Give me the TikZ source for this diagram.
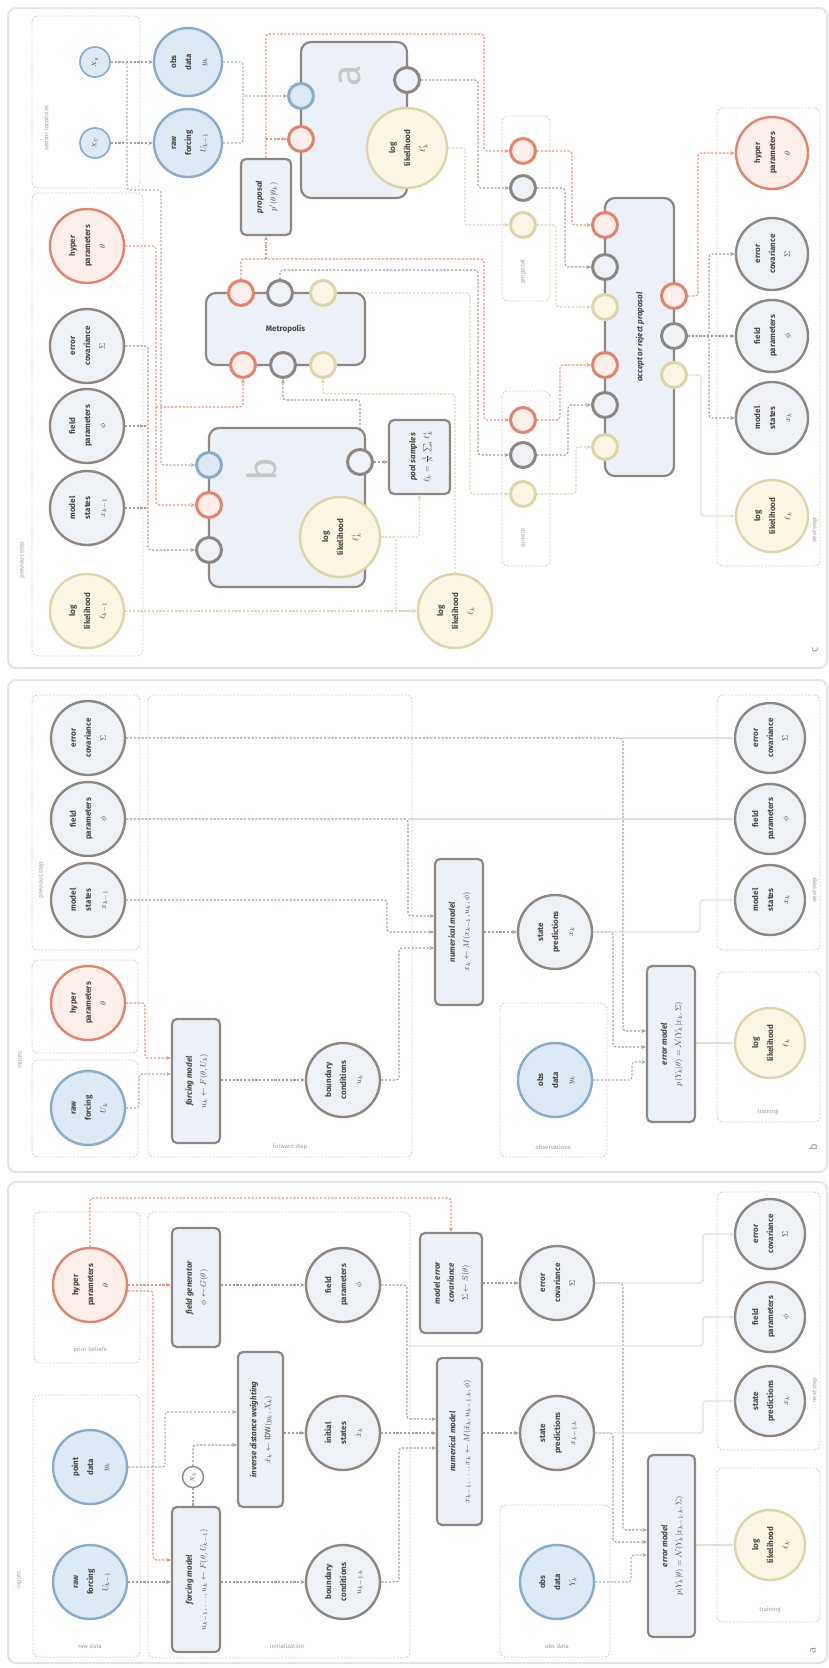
\documentclass[tikz,border=0pt]{standalone}
\usepackage{fontspec}
\setmainfont{Fira Sans}
\usepackage{graphicx}
\usepackage{amssymb}
\usetikzlibrary{arrows.meta}
\definecolor{gbd}{HTML}{8E8682}
\definecolor{gfl}{HTML}{EEF2F6}
\definecolor{rbd}{HTML}{E5826B}
\definecolor{rfl}{HTML}{FCEFEA}
\definecolor{bbd}{HTML}{88AACB}
\definecolor{bfl}{HTML}{DDEAF5}
\definecolor{ybd}{HTML}{DDD4AA}
\definecolor{yfl}{HTML}{FAF6E3}
\definecolor{bxfl}{HTML}{EBF1F7}
\definecolor{ink}{HTML}{4A4542}
\definecolor{lnc}{HTML}{A89E99}
\definecolor{lnr}{HTML}{EA967F}
\definecolor{lnb}{HTML}{9FB3C7}
\definecolor{lny}{HTML}{DCD5B4}
\definecolor{fntc}{HTML}{E4DFDB}
\definecolor{grpc}{HTML}{D8CEC9}
\definecolor{pnlc}{HTML}{E6E4E2}
\definecolor{lbl}{HTML}{A39B97}
\pgfdeclarelayer{grps}
\pgfdeclarelayer{wires}
\pgfsetlayers{grps,wires,main}
\newcommand{\vlab}[1]{\rotatebox{90}{\begin{tabular}{@{}c@{}}#1\end{tabular}}}
\newcommand{\btitle}[1]{\textbf{\textit{#1}}}
\tikzset{
  crc/.style={circle,minimum size=74pt,inner sep=0pt,line width=2.4pt,draw=gbd,fill=gfl,text=ink,font=\fontsize{8}{15}\selectfont\bfseries},
  crcr/.style={crc,draw=rbd,fill=rfl},
  crcb/.style={crc,draw=bbd,fill=bfl},
  crcy/.style={crc,draw=ybd,fill=yfl},
  bx/.style={rectangle,rounded corners=5pt,line width=2.2pt,draw=gbd,fill=bxfl,inner sep=0pt,text=ink,font=\fontsize{8}{14}\selectfont},
  prt/.style={circle,minimum size=25pt,inner sep=0pt,line width=3pt,draw=gbd,fill=gfl},
  prtr/.style={prt,draw=rbd,fill=rfl},
  prtb/.style={prt,draw=bbd,fill=bfl},
  prty/.style={prt,draw=ybd,fill=yfl},
  grp/.style={draw=grpc,dash pattern=on 2pt off 1.5pt,rounded corners=6pt,line width=0.9pt,fill=white},
  glab/.style={text=lbl,font=\fontsize{6}{7}\selectfont},
  pnl/.style={draw=pnlc,rounded corners=8pt,line width=2pt},
  flow/.style={draw=lnc,line width=1.1pt,dash pattern=on 2.2pt off 1.6pt,rounded corners=3pt,-{Stealth[length=4.5pt,width=4pt]}},
  flowr/.style={flow,draw=lnr},
  flowb/.style={flow,draw=lnb},
  flowy/.style={flow,draw=lny},
  faint/.style={draw=fntc,line width=1.4pt,rounded corners=3pt,-{Stealth[length=4.5pt,width=4pt]}},
}
\begin{document}
\begin{tikzpicture}[x=1pt,y=-1pt]
\tikzset{bigl/.style={text=gray!45,font=\fontsize{40}{40}\selectfont},pl/.style={text=lbl,font=\fontsize{11}{11}\selectfont}}
\useasboundingbox (0,0) rectangle (829,1668);

\node[crcr] (thA) at (90,1285) {\vlab{hyper\\parameters\\$\theta$}};
\node[crcb] (yA) at (90,1467) {\vlab{point\\data\\$y_k$}};
\node[crcb] (UA) at (90,1582) {\vlab{raw\\forcing\\$U_{k-1}$}};
\node[bx,minimum width=48pt,minimum height=119pt] (fgA) at (196,1287.5) {\vlab{\btitle{field generator}\\$\phi\leftarrow G(\theta)$}};
\node[bx,minimum width=48pt,minimum height=145pt] (fcA) at (196,1579.5) {\vlab{\btitle{forcing model}\\$u_{k-1},\dots,u_k\leftarrow F(\theta,U_{k-1})$}};
\node[bx,minimum width=45pt,minimum height=155pt] (idwA) at (260.5,1429.5) {\vlab{\btitle{inverse distance weighting}\\$\hat{x}_k\leftarrow \mathrm{IDW}(y_k,X_k)$}};
\node[crc,minimum size=21pt,line width=1.4pt,fill=white,font=\fontsize{6}{7}\selectfont] (XA) at (193,1477) {\rotatebox{90}{$X_k$}};
\node[crc] (phA) at (343,1285) {\vlab{field\\parameters\\$\phi$}};
\node[crc] (xhA) at (343,1433) {\vlab{initial\\states\\$\hat{x}_k$}};
\node[crc] (ubA) at (343,1582) {\vlab{boundary\\conditions\\$u_{k-1:k}$}};
\node[bx,minimum width=62pt,minimum height=100pt] (meA) at (451,1283) {\vlab{\btitle{model error}\\\btitle{covariance}\\$\Sigma\leftarrow S(\theta)$}};
\node[bx,minimum width=45pt,minimum height=167pt] (nmA) at (459.5,1441.5) {\vlab{\btitle{numerical model}\\$x_{k-1},\dots,x_k\leftarrow M(\hat{x}_k,u_{k-1:k},\phi)$}};
\node[crc] (SgA) at (557,1283) {\vlab{error\\covariance\\$\Sigma$}};
\node[crc] (xpA) at (557,1433) {\vlab{state\\predictions\\$x_{k-1:k}$}};
\node[crcb] (obA) at (557,1582) {\vlab{obs\\data\\$Y_k$}};
\node[bx,minimum width=47pt,minimum height=182pt] (emA) at (671.5,1546) {\vlab{\btitle{error model}\\$p(Y_k|\theta)=\mathcal{N}(Y_k|x_{k-1:k},\Sigma)$}};
\node[crc,minimum size=70pt] (oSA) at (770,1234) {\vlab{error\\covariance\\$\Sigma$}};
\node[crc,minimum size=70pt] (ophA) at (770,1317) {\vlab{field\\parameters\\$\phi$}};
\node[crc,minimum size=70pt] (oxA) at (770,1401) {\vlab{state\\predictions\\$x_k$}};
\node[crcy,minimum size=70pt] (llA) at (770,1545) {\vlab{log\\likelihood\\$\ell_k$}};
\node[glab] (gA1) at (90,1350) {prior beliefs};
\node[glab] (gA2) at (90,1646) {raw data};
\node[glab] (gA3) at (287,1646) {initialization};
\node[glab] (gA4) at (557,1646) {obs data};
\node[glab] (gA5) at (770,1610) {training};
\node[glab,rotate=90] (gA6) at (815,1390) {next step};
\node[glab,rotate=90] (gA7) at (19,1580) {inputs};
\node[pl] (labA) at (813,1650) {\rotatebox{90}{a}};

\node[crc] (SgB0) at (88,738) {\vlab{error\\covariance\\$\Sigma$}};
\node[crc] (phB0) at (88,819) {\vlab{field\\parameters\\$\phi$}};
\node[crc] (xB0) at (88,900) {\vlab{model\\states\\$x_{k-1}$}};
\node[crcr] (thB) at (88,1003) {\vlab{hyper\\parameters\\$\theta$}};
\node[crcb] (UB) at (88,1108) {\vlab{raw\\forcing\\$U_k$}};
\node[bx,minimum width=48pt,minimum height=124pt] (fcB) at (196,1081) {\vlab{\btitle{forcing model}\\$u_k\leftarrow F(\theta,U_k)$}};
\node[crc] (ubB) at (343,1080) {\vlab{boundary\\conditions\\$u_k$}};
\node[bx,minimum width=48pt,minimum height=146pt] (nmB) at (459,932) {\vlab{\btitle{numerical model}\\$x_k\leftarrow M(x_{k-1},u_k,\phi)$}};
\node[crc] (xpB) at (555,932) {\vlab{state\\predictions\\$x_k$}};
\node[crcb] (obB) at (555,1080) {\vlab{obs\\data\\$y_k$}};
\node[bx,minimum width=48pt,minimum height=156pt] (emB) at (671,1044) {\vlab{\btitle{error model}\\$p(Y_k|\theta)=\mathcal{N}(Y_k|x_k,\Sigma)$}};
\node[crc,minimum size=70pt] (oSB) at (770,738) {\vlab{error\\covariance\\$\Sigma$}};
\node[crc,minimum size=70pt] (ophB) at (770,819) {\vlab{field\\parameters\\$\phi$}};
\node[crc,minimum size=70pt] (oxB) at (770,900) {\vlab{model\\states\\$x_k$}};
\node[crcy,minimum size=70pt] (llB) at (770,1043) {\vlab{log\\likelihood\\$\ell_k$}};
\node[glab,rotate=90] (gB1) at (41,880) {previous step};
\node[glab] (gB2) at (290,1147) {forward step};
\node[glab] (gB3) at (553,1147) {observations};
\node[glab] (gB4) at (768,1112) {training};
\node[glab,rotate=90] (gB5) at (815,890) {next step};
\node[glab,rotate=90] (gB6) at (20,1060) {inputs};
\node[pl] (labB) at (813,1147) {\rotatebox{90}{b}};

\node[crcb,minimum size=30pt,line width=1.6pt,font=\fontsize{6.5}{7}\selectfont] (s1C) at (95,62) {\rotatebox{90}{$X_y$}};
\node[crcb,minimum size=30pt,line width=1.6pt,font=\fontsize{6.5}{7}\selectfont] (s2C) at (95,143) {\rotatebox{90}{$X_U$}};
\node[crcb,minimum size=68pt] (B1C) at (188,62) {\vlab{obs\\data\\$y_k$}};
\node[crcb,minimum size=68pt] (B2C) at (188,143) {\vlab{raw\\forcing\\$U_{k-1}$}};
\node[bx,rounded corners=10pt,minimum width=106pt,minimum height=156pt] (aC) at (354,120) {};
\node[bigl] (aL) at (350,76) {\rotatebox{90}{a}};
\node[prtb] (pbaC) at (301,96) {};
\node[prtr] (praC) at (301,139) {};
\node[prt] (pgaC) at (407,80) {};
\node[crcy,minimum size=80pt] (laC) at (407,148) {\vlab{log\\likelihood\\$\ell'_k$}};
\node[bx,minimum width=50pt,minimum height=76pt] (prC) at (266,197) {\vlab{\btitle{proposal}\\$p'(\theta|\theta_k)$}};
\node[bx,rounded corners=10pt,minimum width=159pt,minimum height=72pt,font=\fontsize{8}{9}\selectfont\bfseries] (enC) at (285.5,329) {Metropolis};
\node[prtr] (ptrC) at (241,293) {};
\node[prt] (ptgC) at (280,293) {};
\node[prty] (ptyC) at (323,293) {};
\node[prtr] (pbrC) at (243,365) {};
\node[prt] (pbgC) at (283,365) {};
\node[prty] (pbyC) at (323,365) {};
\node[bx,rounded corners=10pt,minimum width=156pt,minimum height=159pt] (bC) at (287,507.5) {};
\node[bigl] (bL) at (262,470) {\rotatebox{90}{b}};
\node[prtb] (pbbC) at (209,465) {};
\node[prtr] (prbC) at (209,505) {};
\node[prt] (pgbC) at (209,550) {};
\node[prt] (pgb2C) at (360,462) {};
\node[crcy,minimum size=80pt] (lbC) at (340,537) {\vlab{log\\likelihood\\$\ell^{i}_k$}};
\node[bx,minimum width=61pt,minimum height=74pt] (poC) at (419.5,457) {\vlab{\btitle{pool samples}\\$\ell_k=\frac{1}{N}\sum_i\ell^{i}_k$}};
\node[crcy] (llC) at (455,611) {\vlab{log\\likelihood\\$\ell_k$}};
\node[prtr] (pr1C) at (523,151) {};
\node[prt] (pg1C) at (523,188) {};
\node[prty] (py1C) at (523,225) {};
\node[prtr] (pr2C) at (523,420) {};
\node[prt] (pg2C) at (523,455) {};
\node[prty] (py2C) at (523,494) {};
\node[bx,rounded corners=10pt,minimum width=69pt,minimum height=278pt] (acC) at (639.5,337) {\vlab{\btitle{accept or reject proposal}}};
\node[prtr] (ar1C) at (605,225) {};
\node[prt] (ag1C) at (605,267) {};
\node[prty] (ay1C) at (605,307) {};
\node[prtr] (ar2C) at (605,365) {};
\node[prt] (ag2C) at (605,405) {};
\node[prty] (ay2C) at (605,447) {};
\node[prtr] (ar3C) at (674,296) {};
\node[prt] (ag3C) at (674,336) {};
\node[prty] (ay3C) at (674,375) {};
\node[crcr,minimum size=72pt] (othC) at (772,153) {\vlab{hyper\\parameters\\$\theta$}};
\node[crc,minimum size=72pt] (oSC) at (772,254) {\vlab{error\\covariance\\$\Sigma$}};
\node[crc,minimum size=72pt] (oPC) at (772,336) {\vlab{field\\parameters\\$\phi$}};
\node[crc,minimum size=72pt] (oxC) at (772,418) {\vlab{model\\states\\$x_k$}};
\node[crcy,minimum size=72pt] (olC) at (772,516) {\vlab{log\\likelihood\\$\ell_k$}};
\node[crcr] (thC0) at (87,246) {\vlab{hyper\\parameters\\$\theta$}};
\node[crc] (SgC0) at (87,346) {\vlab{error\\covariance\\$\Sigma$}};
\node[crc] (phC0) at (87,426) {\vlab{field\\parameters\\$\phi$}};
\node[crc] (xC0) at (87,508) {\vlab{model\\states\\$x_{k-1}$}};
\node[crcy] (lyC0) at (87,611) {\vlab{log\\likelihood\\$\ell_{k-1}$}};
\node[glab,rotate=90] (gC1) at (46,128) {sensor locations};
\node[glab,rotate=90] (gC2) at (523,272) {proposal};
\node[glab,rotate=90] (gC3) at (523,538) {current};
\node[glab,rotate=90] (gC4) at (815,530) {next step};
\node[glab,rotate=90] (gC5) at (22,560) {previous step};
\node[pl] (labC) at (815,650) {\rotatebox{90}{c}};

\begin{pgfonlayer}{wires}
\draw[flowr] (thA.east) -- (thA.east -| fgA.west);
\draw[flowr] ([yshift=-6pt]thA.east) -| (153,1560) -- (fcA.west |- 0,1560);
\draw[flowr] (thA.north) |- (meA.north |- 0,1198) -- (meA.north);
\draw[flow] (UA.east) -- (UA.east -| fcA.west);
\draw[flowb] (yA.east) -| (165,1412) -- (idwA.west |- 0,1412);
\draw[flow,-] (XA.south) -- (XA.south |- fcA.north);
\draw[flow] (XA.north) |- (idwA.west |- 0,1445);
\draw[flow] (phA.west -| fgA.east) -- (phA.west);
\draw[flow] (xhA.west -| idwA.east) -- (xhA.west);
\draw[flow] (ubA.west -| fcA.east) -- (ubA.west);
\draw[flow] (phA.east) -| (407,1419) -- (nmA.west |- 0,1419);
\draw[flow] (xhA.east) -- (xhA.east -| nmA.west);
\draw[flow] (ubA.east) -| (399,1448) -- (nmA.west |- 0,1448);
\draw[flow] (SgA.west -| meA.east) -- (SgA.west);
\draw[flow] (xpA.west -| nmA.east) -- (xpA.west);
\draw[flow] (SgA.east) -| (623,1530) -- (emA.west |- 0,1530);
\draw[flow] (xpA.east) -| (613,1542) -- (emA.west |- 0,1542);
\draw[flowb] (obA.east) -| (631,1555) -- (emA.west |- 0,1555);
\draw[faint] (emA.east |- llA) -- (llA.west);
\draw[faint] (SgA.east) -| (703,1234) -- (oSA.west);
\coordinate (jA1) at (407,1346);
\draw[faint] (jA1) -- (703,1346) |- (ophA.west);
\draw[faint] (xpA.east) -- (703,1433) |- (oxA.west);

\draw[flowr] (thB.east) -| (145,1058) -- (fcB.west |- 0,1058);
\draw[flowb] (UB.east) -| (139,1074) -- (fcB.west |- 0,1074);
\draw[flow] (fcB.east |- ubB) -- (ubB.west);
\draw[flow] (ubB.east) -| (399,948) -- (nmB.west |- 0,948);
\draw[flow] (phB0.east) -| (408,916) -- (nmB.west |- 0,916);
\draw[flow] (xB0.east) -| (387,932) -- (nmB.west |- 0,932);
\draw[flow] (nmB.east |- xpB) -- (xpB.west);
\draw[flow] (SgB0.east) -| (623,1031) -- (emB.west |- 0,1031);
\draw[flow] (xpB.east) -| (613,1047) -- (emB.west |- 0,1047);
\draw[flowb] (obB.east) -| (632,1062) -- (emB.west |- 0,1062);
\draw[faint] (emB.east |- llB) -- (llB.west);
\coordinate (jB1) at (623,738);
\draw[faint] (jB1) -- (oSB.west);
\coordinate (jB2) at (408,819);
\draw[faint] (jB2) -- (ophB.west);
\draw[faint] (xpB.east) -- (700,932) |- (oxB.west);

\draw[flow] (s1C) -- (B1C);
\draw[flow] (s2C) -- (B2C);
\draw[flowb] (s1C.east) -| (127,190) -- (161,190) |- (pbbC.west);
\draw[flowb] (B1C.east) -| (243,96) -- (pbaC.west);
\draw[flowb,-] (B2C.east) -| (243,96);
\draw[flowr] (prC.north) -- (266,34) -| (484,151) -- (pr1C.west);
\coordinate (jC1) at (266,139);
\draw[flowr] (jC1) -- (praC.west);
\draw[flowr] (ptrC.north) |- (484,259) |- (pr2C.west);
\coordinate (jC2) at (266,259);
\draw[flowr] (jC2) -- (prC.south);
\draw[flow] (ptgC.north) |- (478,270) |- (pg2C.west);
\draw[flowy] (ptyC.east) -- (470,293) |- (py2C.west);
\draw[flow] (pgaC.east) -| (478,188) -- (pg1C.west);
\draw[flowy] (laC.east) -| (465,225) -- (py1C.west);
\draw[flowr] (pr1C.east) -| (572,225) -- (ar1C.west);
\draw[flow] (pg1C.east) -| (565,267) -- (ag1C.west);
\draw[flowy] (py1C.east) -| (556,307) -- (ay1C.west);
\draw[flowr] (pr2C.east) -| (560,365) -- (ar2C.west);
\draw[flow] (pg2C.east) -| (568,405) -- (ag2C.west);
\draw[flowy] (py2C.east) -| (576,447) -- (ay2C.west);
\draw[flowr] (ar3C.east) -| (698,153) -- (othC.west);
\draw[flow] (ag3C.east) -- (oPC.west);
\draw[flow] (ag3C.east) -| (709,254) -- (oSC.west);
\draw[flow] (ag3C.east) -| (709,418) -- (oxC.west);
\draw[faint] (ay3C.east) -| (701,516) -- (olC.west);
\draw[flowr] (thC0.east) -| (156,505) -- (prbC.west);
\coordinate (jC3) at (156,407);
\draw[flowr] (jC3) -| (pbrC.south);
\draw[flow] (SgC0.east) -| (148,550) -- (pgbC.west);
\draw[flow,-] (phC0.east) -- (148,426);
\draw[flow,-] (xC0.east) -- (148,508);
\draw[flow] (pgb2C.north) |- (300,400) -| (pbgC.south);
\draw[flow] (pgb2C.east) -- (pgb2C.east -| poC.west);
\draw[flowy] (lbC.east) -| (poC.south);
\draw[flowy] (lbC.east) -| (396,611) -- (llC.west);
\draw[flowy] (lyC0.east) -- (llC.west);
\draw[flowy] (llC.north) -- (455,394) -| (pbyC.south);
\end{pgfonlayer}

\begin{pgfonlayer}{grps}
\fill[white] (0,0) rectangle (829,1668);
\draw[pnl] (8,8) rectangle (827,668);
\draw[pnl] (8,680) rectangle (827,1172);
\draw[pnl] (8,1182) rectangle (827,1663);
\draw[grp] (34,1212) rectangle (140,1363);
\draw[grp] (33,1395) rectangle (140,1657);
\draw[grp] (148,1212) rectangle (410,1658);
\draw[grp] (500,1505) rectangle (610,1657);
\draw[grp] (717,1192) rectangle (820,1450);
\draw[grp] (717,1468) rectangle (820,1622);
\draw[grp] (32,695) rectangle (140,950);
\draw[grp] (32,960) rectangle (138,1053);
\draw[grp] (32,1060) rectangle (138,1157);
\draw[grp] (148,695) rectangle (412,1157);
\draw[grp] (500,1003) rectangle (607,1157);
\draw[grp] (717,695) rectangle (820,950);
\draw[grp] (717,972) rectangle (820,1122);
\draw[grp] (32,16) rectangle (140,188);
\draw[grp] (32,193) rectangle (143,656);
\draw[grp] (502,116) rectangle (550,301);
\draw[grp] (502,391) rectangle (550,566);
\draw[grp] (717,108) rectangle (820,566);
\end{pgfonlayer}
\end{tikzpicture}
\end{document}
